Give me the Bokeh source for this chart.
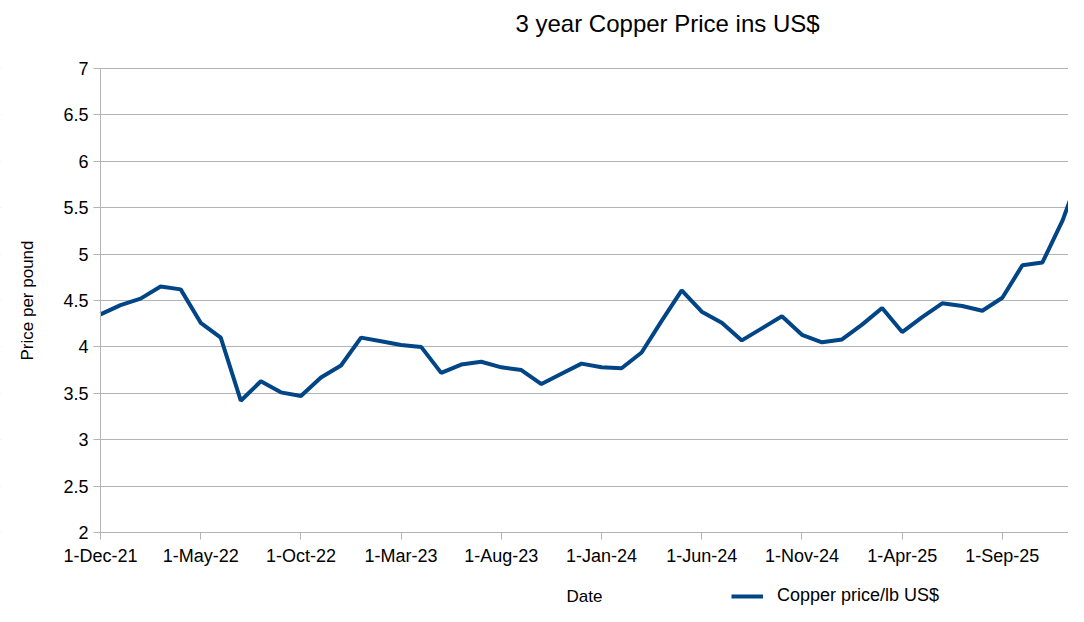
import pandas as pd
from bokeh.plotting import figure
from bokeh.models import (ColumnDataSource, Range1d, FixedTicker, NumeralTickFormatter,
                          Legend, LegendItem, Title, LinearAxis, BoxAnnotation)
from bokeh.embed import file_html
from bokeh.resources import INLINE

# ---- data ----
dates = pd.date_range("2021-12-01", "2026-01-01", freq="MS").strftime("%Y-%m-%d").tolist()
prices = [4.35, 4.45, 4.52, 4.65, 4.62, 4.26, 4.10, 3.42, 3.63, 3.51, 3.47, 3.67,
          3.80, 4.10, 4.06, 4.02, 4.00, 3.72, 3.81, 3.84, 3.78, 3.75, 3.60, 3.71,
          3.82, 3.78, 3.77, 3.94, 4.28, 4.61, 4.38, 4.26, 4.07, 4.20, 4.33, 4.13,
          4.05, 4.08, 4.24, 4.42, 4.16, 4.32, 4.47, 4.44, 4.39, 4.53, 4.88, 4.91,
          5.36, 5.95]
series_name = "Copper price/lb US$"
x_title = "Date"
y_title = "Price per pound"
y_ticks = [2, 2.5, 3, 3.5, 4, 4.5, 5, 5.5, 6, 6.5, 7]
tick_every = 5

idx = list(range(len(dates)))
dts = pd.to_datetime(dates)
labels = [f"{d.day}-{d.strftime('%b-%y')}" for d in dts]

FONT = "Liberation Sans"
GRID = "#b3b3b3"
LINE = "#004586"

W, H = 1068, 606
LEFT_PX = 100            # where the y axis sits
TOP_PX = 56              # top of the frame (the 7 line sits 12px lower)
AXIS_TOP, AXIS_BOTTOM = 68, 532
x_end = 48.3
x_start = -LEFT_PX / ((W - LEFT_PX) / x_end)
y_min, y_max = y_ticks[0], y_ticks[-1]
px_per_unit = (AXIS_BOTTOM - AXIS_TOP) / (y_max - y_min)
# the frame fills the figure below the title; both axes are pinned at the data
# origin (x = first month, y = 2) so that every label is drawn inside the frame
y_start = y_min - (H - AXIS_BOTTOM) / px_per_unit
y_end = y_max + (AXIS_TOP - TOP_PX) / px_per_unit

src = ColumnDataSource(dict(x=idx, y=prices))

p = figure(width=W, height=H, output_backend="svg", toolbar_location=None,
           x_range=Range1d(x_start, x_end), y_range=Range1d(y_start, y_end),
           x_axis_location=None,
           min_border_left=0, min_border_right=0, min_border_top=TOP_PX, min_border_bottom=0,
           outline_line_color=None, title=None)

# white cover left of the y axis so grid lines start at the axis
p.add_layout(BoxAnnotation(right=0, fill_color="white", fill_alpha=1.0,
                           line_color=None, level="underlay"))

r = p.line("x", "y", source=src, line_color=LINE, line_width=4)

# title (an empty spacer between it and the frame lifts it to the top)
spacer = Title(text=" ", text_font=FONT, text_font_size="10px", standoff=5)
p.add_layout(spacer, "above")
t = Title(text="3 year Copper Price ins US$", align="left", offset=515,
          vertical_align="top",
          text_font=FONT, text_font_size="24px", text_font_style="normal",
          text_color="#000000", standoff=0)
p.add_layout(t, "above")

# x axis pinned at y = 2
xt = list(range(0, len(dates) - 1, tick_every))
xaxis = LinearAxis(fixed_location=y_min, ticker=FixedTicker(ticks=xt),
                   major_label_overrides={i: labels[i] for i in xt},
                   axis_label=x_title, bounds=(0, x_end))
p.add_layout(xaxis, "below")

# y axis pinned at the first month
yaxis = p.yaxis[0]
yaxis.fixed_location = 0
yaxis.ticker = FixedTicker(ticks=y_ticks)
yaxis.formatter = NumeralTickFormatter(format="0.[0]")
yaxis.axis_label = y_title
yaxis.bounds = (y_min, y_max)

for ax in (xaxis, yaxis):
    ax.axis_line_color = GRID
    ax.major_tick_line_color = GRID
    ax.minor_tick_line_color = None
    ax.major_tick_out = 7
    ax.major_tick_in = 0
    ax.major_label_text_font = FONT
    ax.major_label_text_font_size = "18px"
    ax.major_label_text_color = "#000000"
    ax.axis_label_text_font = FONT
    ax.axis_label_text_font_size = "17px"
    ax.axis_label_text_font_style = "normal"
    ax.axis_label_text_color = "#000000"

xaxis.major_label_standoff = 6
xaxis.axis_label_standoff = 18
yaxis.major_label_standoff = 5
yaxis.axis_label_standoff = 23

p.xgrid.grid_line_color = None
p.ygrid.grid_line_color = GRID
p.ygrid.grid_line_width = 1
p.ygrid.ticker = FixedTicker(ticks=y_ticks)

legend = Legend(items=[LegendItem(label=series_name, renderers=[r])],
                location=(731, 0), orientation="horizontal",
                label_text_font=FONT, label_text_font_size="18px",
                label_text_color="#000000",
                glyph_width=32, glyph_height=20, label_standoff=14,
                padding=0, margin=0, border_line_color=None, background_fill_alpha=0)
p.add_layout(legend, "center")

open("out.html", "w").write(file_html(p, INLINE))
